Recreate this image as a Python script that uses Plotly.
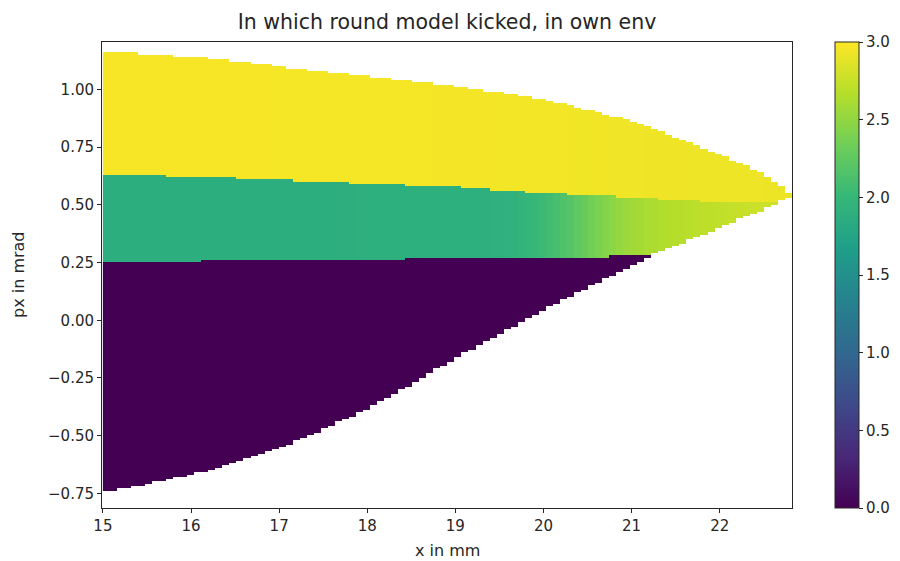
import numpy as np
import plotly.graph_objects as go

# ---- data ----
# upper edge of the yellow region (px in mrad) vs x in mm
top_x = [15.0, 15.5, 16.0, 16.5, 17.0, 17.5, 18.0, 18.5, 19.0, 19.5, 20.0, 20.5, 20.9, 21.25, 21.6, 22.0, 22.4, 22.7, 22.82]
top_y = [1.162, 1.153, 1.141, 1.122, 1.1, 1.077, 1.055, 1.034, 1.013, 0.987, 0.955, 0.912, 0.874, 0.832, 0.777, 0.717, 0.65, 0.582, 0.54]

# boundary yellow / green (top of green band)
gtop_x = [15.0, 16.0, 17.0, 18.0, 19.0, 19.5, 20.5, 21.0, 21.5, 22.0, 22.5, 22.82]
gtop_y = [0.634, 0.622, 0.608, 0.592, 0.577, 0.562, 0.54, 0.532, 0.52, 0.51, 0.505, 0.52]

# bottom of green band (= top of purple region where it exists)
gbot_x = [15.0, 17.0, 19.0, 21.2, 21.6, 22.0, 22.4, 22.6, 22.82]
gbot_y = [0.251, 0.258, 0.268, 0.277, 0.335, 0.40, 0.464, 0.50, 0.535]

# lower edge of purple region
pbot_x = [15.0, 15.5, 16.0, 16.5, 17.0, 17.5, 18.0, 18.5, 19.0, 19.5, 20.0, 20.5, 21.0, 21.2]
pbot_y = [-0.745, -0.712, -0.672, -0.618, -0.555, -0.475, -0.385, -0.28, -0.168, -0.062, 0.043, 0.14, 0.235, 0.272]

# kick round values in each region
green_x = [15.0, 19.3, 19.7, 20.0, 20.3, 20.6, 20.9, 21.2, 21.6, 22.0, 22.5]
green_v = [1.88, 1.89, 1.94, 2.04, 2.19, 2.38, 2.53, 2.62, 2.68, 2.72, 2.78]
yellow_x = [15.0, 19.0, 22.82]
yellow_v = [2.97, 2.96, 2.92]
purple_v = 0.0

x_ticks = [15, 16, 17, 18, 19, 20, 21, 22]
y_ticks = [-0.75, -0.5, -0.25, 0.0, 0.25, 0.5, 0.75, 1.0]
cbar_ticks = [0.0, 0.5, 1.0, 1.5, 2.0, 2.5, 3.0]

# ---- build raster from the read boundaries ----
x_start, x_end = 15.0, 22.82
nx = 98
dx = (x_end - x_start) / nx
y_start, dy, ny = -0.81, 0.01, 202
xc = x_start + dx * (np.arange(nx) + 0.5)
yc = y_start + dy * (np.arange(ny) + 0.5)

z = np.full((ny, nx), np.nan)
for j, xv in enumerate(xc):
    t = np.interp(xv, top_x, top_y)
    gt = np.interp(xv, gtop_x, gtop_y)
    gb = np.interp(xv, gbot_x, gbot_y)
    gv = np.interp(xv, green_x, green_v)
    yv = np.interp(xv, yellow_x, yellow_v)
    has_purple = xv <= pbot_x[-1]
    pb = np.interp(xv, pbot_x, pbot_y)
    for i, yy in enumerate(yc):
        if yy > t:
            continue
        if yy > max(gt, gb):
            z[i, j] = yv
        elif yy > gb:
            z[i, j] = gv
        elif has_purple and yy > pb:
            z[i, j] = purple_v

TXT = "#262626"
fig = go.Figure(go.Heatmap(
    z=z, x0=xc[0], dx=dx, y0=yc[0], dy=dy,
    colorscale="Viridis", zmin=0, zmax=3, zsmooth=False,
    colorbar=dict(
        x=1.0623, xanchor="left", y=0.5, yanchor="middle",
        len=1.0, lenmode="fraction", thickness=24, ypad=0, xpad=0,
        outlinewidth=1, outlinecolor=TXT,
        tickvals=cbar_ticks, ticktext=[f"{v:.1f}" for v in cbar_ticks],
        ticks="outside", ticklen=4, tickcolor=TXT,
        tickfont=dict(family="DejaVu Sans", size=15, color=TXT),
    ),
))

# page body has an 8px margin, so the canvas is offset by (8, 8)
fig.update_layout(
    width=892, height=553,
    margin=dict(l=94, r=108, t=34, b=53, autoexpand=False),
    paper_bgcolor="white", plot_bgcolor="white",
    title=dict(text="In which round model kicked, in own env",
               x=0.5, xref="paper", y=1 - 14 / 553, yref="container",
               xanchor="center", yanchor="middle",
               font=dict(family="DejaVu Sans", size=20.5, color=TXT)),
    font=dict(family="DejaVu Sans", size=15, color=TXT),
    annotations=[
        dict(text="x in mm", x=0.5, xref="paper", y=0, yref="paper",
             xanchor="center", yanchor="middle", yshift=-42, showarrow=False,
             font=dict(size=16, color=TXT)),
        dict(text="px in mrad", x=0, xref="paper", y=0.5, yref="paper",
             xanchor="center", yanchor="middle", xshift=-84, textangle=-90,
             showarrow=False, font=dict(size=16, color=TXT)),
    ],
)
fig.update_xaxes(
    range=[14.99, 22.82], tickvals=x_ticks, ticktext=[str(v) for v in x_ticks],
    showline=True, mirror=True, linecolor=TXT, linewidth=1, automargin=False,
    ticks="outside", ticklen=4, tickcolor=TXT, showgrid=False, zeroline=False,
    tickfont=dict(size=15),
)
fig.update_yaxes(
    range=[-0.813, 1.205], tickvals=y_ticks, ticktext=[f"{v:.2f}".replace("-", "\u2212") for v in y_ticks],
    showline=True, mirror=True, linecolor=TXT, linewidth=1, automargin=False,
    ticks="outside", ticklen=4, tickcolor=TXT, showgrid=False, zeroline=False,
    tickfont=dict(size=15),
)

fig.write_html("out.html")
